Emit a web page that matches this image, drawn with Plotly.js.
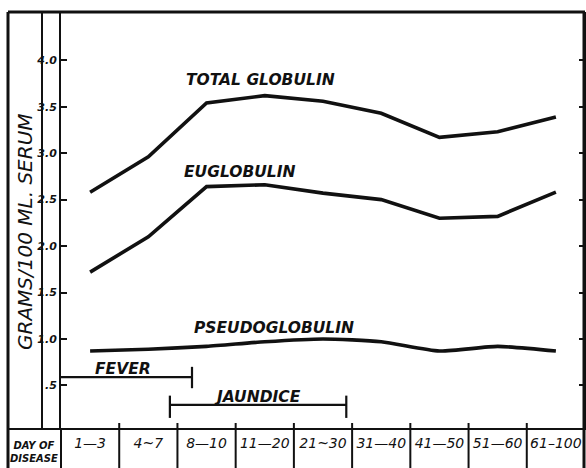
<!DOCTYPE html>
<html>
<head>
<meta charset="utf-8">
<script src="https://cdn.plot.ly/plotly-3.0.1.min.js"></script>
<style>html,body{margin:0;padding:0;background:#fff;}#chart{width:586px;height:468px;}</style>
</head>
<body>
<div id="chart"></div>
<script>
// ---- data ----
var categories = ["1\u20143", "4~7", "8\u201410", "11\u201420", "21~30", "31\u201440", "41\u201450", "51\u201460", "61\u2013100"];
var totalGlobulin = [2.58, 2.96, 3.54, 3.62, 3.56, 3.43, 3.17, 3.23, 3.39];
var euglobulin = [1.72, 2.10, 2.64, 2.66, 2.57, 2.50, 2.30, 2.32, 2.58];
var pseudoglobulin = [0.87, 0.89, 0.92, 0.97, 1.00, 0.97, 0.87, 0.92, 0.87];
var yTickVals = [0.5, 1.0, 1.5, 2.0, 2.5, 3.0, 3.5, 4.0];
var yTickText = [".5", "1.0", "1.5", "2.0", "2.5", "3.0", "3.5", "4.0"];
var feverSpan = [-0.5, 1.75];
var feverLevel = 0.59;
var jaundiceSpan = [1.37, 4.40];
var jaundiceLevel = 0.29;

var xIdx = categories.map(function (c, i) { return i; });
var ink = "#111";
var fontFam = "DejaVu Sans, sans-serif";

function spanTrace(span, level, tickLo, tickHi, leftTick) {
  var xs = [span[0], span[1], null, span[1], span[1]];
  var ys = [level, level, null, level + tickLo, level + tickHi];
  if (leftTick) { xs.push(null, span[0], span[0]); ys.push(null, level + tickLo, level + tickHi); }
  return { x: xs, y: ys, mode: "lines", type: "scatter", hoverinfo: "skip",
           line: { color: ink, width: 2.2 }, showlegend: false };
}

var traces = [
  { x: xIdx, y: totalGlobulin, mode: "lines", type: "scatter", line: { color: ink, width: 3.6 }, showlegend: false },
  { x: xIdx, y: euglobulin, mode: "lines", type: "scatter", line: { color: ink, width: 3.6 }, showlegend: false },
  { x: xIdx, y: pseudoglobulin, mode: "lines", type: "scatter", line: { color: ink, width: 3.6, shape: "spline", smoothing: 0.6 }, showlegend: false },
  spanTrace(feverSpan, feverLevel, -0.12, 0.11, false),
  spanTrace(jaundiceSpan, jaundiceLevel, -0.14, 0.10, true)
];

// pixel helpers for frame placement (plot area 61..585 x 12..430)
function px(p) { return (p - 61) / 524; }
function py(p) { return (430 - p) / 418; }

var shapes = [];
function seg(x0, y0, x1, y1, w) {
  shapes.push({ type: "line", xref: "paper", yref: "paper", x0: px(x0), y0: py(y0), x1: px(x1), y1: py(y1),
                line: { color: ink, width: w } });
}
seg(8, 12, 585, 12, 3);      // top border
seg(8, 12, 8, 470, 3);       // left border
seg(584, 12, 584, 470, 3);   // right border
seg(42, 12, 42, 429, 2);     // inner vertical
seg(61, 429, 61, 470, 2);    // label column divider
seg(8, 429, 585, 429, 2.2);  // bottom rule
for (var i = 0; i < categories.length - 1; i++) {
  shapes.push({ type: "line", xref: "x", yref: "paper", x0: i + 0.5, x1: i + 0.5, y0: py(423), y1: py(470),
                line: { color: ink, width: 2 } });
}

var labFont = { family: fontFam, size: 15.5, color: ink, style: "italic", weight: "bold" };
function lab(x, y, t) {
  return { x: x, y: y, text: t, showarrow: false, xanchor: "center", yanchor: "middle", font: labFont };
}
var annotations = [
  lab(2.92, 3.79, "TOTAL GLOBULIN"),
  lab(2.57, 2.80, "EUGLOBULIN"),
  lab(3.16, 1.12, "PSEUDOGLOBULIN"),
  lab(0.56, 0.68, "FEVER"),
  lab(2.88, 0.38, "JAUNDICE"),
  { xref: "paper", yref: "paper", x: px(25), y: py(232), xanchor: "center", yanchor: "middle",
    text: "GRAMS/100 ML. SERUM", textangle: -90,
    showarrow: false, font: { family: fontFam, size: 20, color: ink, style: "italic" } },
  { xref: "paper", yref: "paper", x: px(34), y: py(452), xanchor: "center", yanchor: "middle",
    text: "DAY OF<br>DISEASE", showarrow: false,
    font: { family: fontFam, size: 10, color: ink, style: "italic", weight: "bold" } }
];

var layout = {
  width: 586, height: 468,
  margin: { l: 61, r: 1, t: 12, b: 38, pad: 0 },
  paper_bgcolor: "#fff", plot_bgcolor: "#fff",
  showlegend: false,
  xaxis: { range: [-0.5, 8.5], tickvals: xIdx, ticktext: categories, showgrid: false, zeroline: false,
           showline: false, ticks: "", tickfont: { family: fontFam, size: 14, color: ink, style: "italic" },
           ticklabelstandoff: 3, fixedrange: true },
  yaxis: { range: [0.02, 4.52], tickvals: yTickVals, ticktext: yTickText, showgrid: false, zeroline: false,
           showline: true, linecolor: ink, linewidth: 2, mirror: "ticks", ticks: "inside", ticklen: 6,
           tickwidth: 2, tickcolor: ink, tickfont: { family: fontFam, size: 11, color: ink, style: "italic", weight: "bold" },
           ticklabelstandoff: 0, fixedrange: true },
  shapes: shapes,
  annotations: annotations
};

Plotly.newPlot("chart", traces, layout, { displayModeBar: false, staticPlot: true });
</script>
</body>
</html>
